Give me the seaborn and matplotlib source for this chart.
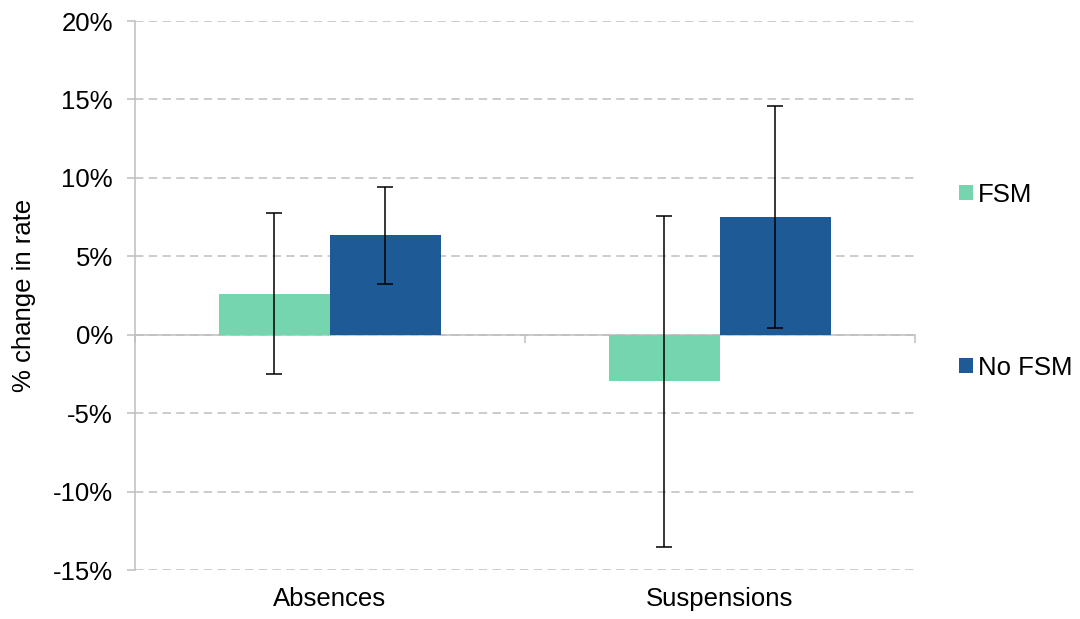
import pandas as pd
import numpy as np
import matplotlib.pyplot as plt
import seaborn as sns
from matplotlib.patches import Patch

# Values
categories = ['Absences', 'Suspensions']
groups = ['FSM', 'No FSM']
fsm_change = [2.6, -2.95]
nofsm_change = [6.35, 7.5]
fsm_low = [-2.5, -13.5]
fsm_high = [7.75, 7.55]
nofsm_low = [3.25, 0.45]
nofsm_high = [9.45, 14.6]
y_ticks = [-15, -10, -5, 0, 5, 10, 15, 20]

colors = {'FSM': '#74D5AE', 'No FSM': '#1D5A96'}
grey = '#BFBFBF'

df = pd.DataFrame({
    'category': categories * 2,
    'group': ['FSM'] * 2 + ['No FSM'] * 2,
    'change': fsm_change + nofsm_change,
    'low': fsm_low + nofsm_low,
    'high': fsm_high + nofsm_high,
})

sns.set_style('white')
plt.rcParams['font.family'] = ['Liberation Sans', 'DejaVu Sans']
plt.rcParams['text.color'] = 'black'
plt.rcParams['axes.labelcolor'] = 'black'
plt.rcParams['xtick.labelcolor'] = 'black'
plt.rcParams['ytick.labelcolor'] = 'black'

fig = plt.figure(figsize=(10.8, 6.19), dpi=100)
ax = fig.add_axes([0.125, 0.079, 0.722, 0.887])

sns.barplot(data=df, x='category', y='change', hue='group', hue_order=groups,
            order=categories, palette=colors, saturation=1, width=0.57,
            linewidth=0, errorbar=None, legend=False, ax=ax, zorder=2)

# Error bars on each bar
for grp, container in zip(groups, ax.containers):
    sub = df[df['group'] == grp].set_index('category').loc[categories]
    xs = [b.get_x() + b.get_width() / 2 for b in container]
    ax.errorbar(xs, sub['change'],
                yerr=[sub['change'] - sub['low'], sub['high'] - sub['change']],
                fmt='none', ecolor='black', elinewidth=1.1, capsize=6,
                capthick=1.1, zorder=3)

ax.set_ylim(-15, 20)
ax.set_xlim(-0.5, 1.5)
ax.set_yticks(y_ticks)
ax.set_yticklabels([f'{t}%' for t in y_ticks])
ax.yaxis.grid(True, color=grey, linestyle=(0, (5.5, 3.5)), linewidth=1.1, zorder=0)
ax.set_axisbelow(True)

for s in ['top', 'right', 'bottom']:
    ax.spines[s].set_visible(False)
ax.spines['left'].set_color(grey)
ax.spines['left'].set_linewidth(1.1)

ax.tick_params(axis='y', which='major', left=True, length=6, width=1.1,
               color=grey, labelsize=18.5, pad=10, labelcolor='black')
ax.tick_params(axis='x', which='major', bottom=False, length=0,
               labelsize=18.5, pad=12, labelcolor='black')

# Zero line with category divider ticks
zero_axis = ax.secondary_xaxis(15 / 35)
zero_axis.set_xticks([-0.5, 0.5, 1.5])
zero_axis.set_xticklabels(['', '', ''])
zero_axis.tick_params(length=6, width=1.1, color=grey, direction='out')
zero_axis.spines['bottom'].set_color(grey)
zero_axis.spines['bottom'].set_linewidth(1.1)

ax.set_xlabel('')
ax.set_ylabel('% change in rate', fontsize=18.5, labelpad=12, color='black')

handles = [Patch(facecolor=colors[g], edgecolor='none') for g in groups]
fig.legend(handles, groups, loc='center left', bbox_to_anchor=(0.888, 0.546),
           frameon=False, fontsize=18.5, handlelength=0.55, handleheight=0.55,
           handletextpad=0.2, labelspacing=5.8, borderpad=0, borderaxespad=0,
           labelcolor='black')

plt.savefig('out.png', dpi=100)
plt.close()
